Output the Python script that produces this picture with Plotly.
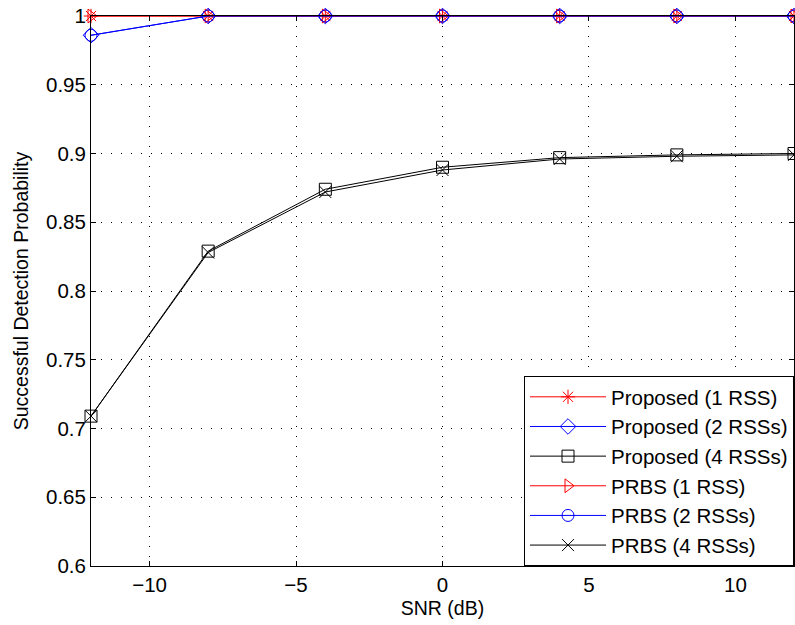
import plotly.graph_objects as go

snr = [-12, -8, -4, 0, 4, 8, 12]
prop_1 = [1.0, 1.0, 1.0, 1.0, 1.0, 1.0, 1.0]
prop_2 = [0.986, 1.0, 1.0, 1.0, 1.0, 1.0, 1.0]
prop_4 = [0.709, 0.829, 0.874, 0.890, 0.897, 0.899, 0.900]
prbs_1 = [1.0, 1.0, 1.0, 1.0, 1.0, 1.0, 1.0]
prbs_2 = [0.986, 1.0, 1.0, 1.0, 1.0, 1.0, 1.0]
prbs_4 = [0.709, 0.828, 0.872, 0.888, 0.896, 0.898, 0.899]

xticks = [-10, -5, 0, 5, 10]
xticklabels = ["\u221210", "\u22125", "0", "5", "10"]
yticks = [0.6, 0.65, 0.7, 0.75, 0.8, 0.85, 0.9, 0.95, 1.0]
yticklabels = ["0.6", "0.65", "0.7", "0.75", "0.8", "0.85", "0.9", "0.95", "1"]

series = [
    ("Proposed (1 RSS)", prop_1, "red", "asterisk-open"),
    ("Proposed (2 RSSs)", prop_2, "blue", "diamond-open"),
    ("Proposed (4 RSSs)", prop_4, "black", "square-open"),
    ("PRBS (1 RSS)", prbs_1, "red", "triangle-right-open"),
    ("PRBS (2 RSSs)", prbs_2, "blue", "circle-open"),
    ("PRBS (4 RSSs)", prbs_4, "black", "x-thin-open"),
]

fig = go.Figure()
for i, (name, vals, col, sym) in enumerate(series):
    fig.add_trace(go.Scatter(
        x=snr, y=vals, name=name, mode="lines+markers",
        line=dict(color=col, width=1),
        marker=dict(symbol=sym, size=12, color=col, line=dict(color=col, width=1)),
        legendgroup=f"g{i}",
        cliponaxis=False,
    ))

font = "Liberation Sans, Arial, Helvetica, sans-serif"
fig.update_layout(
    width=795, height=625,
    margin=dict(l=91, r=1, t=16, b=59),
    paper_bgcolor="white", plot_bgcolor="white",
    font=dict(family=font, size=20, color="black"),
    showlegend=True,
    legend=dict(
        x=1, y=0, xanchor="right", yanchor="bottom",
        bgcolor="white", bordercolor="black", borderwidth=1,
        font=dict(size=20.5), tracegroupgap=0, traceorder="grouped",
        itemwidth=76,
    ),
    xaxis=dict(
        range=[-12, 12], tickvals=xticks, ticktext=xticklabels,
        ticks="inside", ticklen=5, tickcolor="black", mirror="ticks",
        showline=True, linecolor="black", linewidth=1,
        showgrid=True, gridcolor="black", gridwidth=1, griddash="1px,9px",
        zeroline=False, automargin=False, ticklabeloverflow="allow",
        tickfont=dict(size=20.5),
        title=dict(text="SNR (dB)", standoff=6, font=dict(size=19.5)),
    ),
    yaxis=dict(
        range=[0.6, 1.0], tickvals=yticks, ticktext=yticklabels,
        ticks="inside", ticklen=5, tickcolor="black", mirror="ticks",
        showline=True, linecolor="black", linewidth=1,
        showgrid=True, gridcolor="black", gridwidth=1, griddash="1px,9px",
        zeroline=False, automargin=False, ticklabeloverflow="allow",
        tickfont=dict(size=20.5),
        title=dict(text="Successful Detection Probability", standoff=12, font=dict(size=19.5)),
    ),
)

# remove the browser's default 8px body margin so the figure fills the window
fig.write_html(
    "out.html",
    config={"displayModeBar": False},
    post_script="document.body.style.margin='0';document.body.style.overflow='hidden';",
)
